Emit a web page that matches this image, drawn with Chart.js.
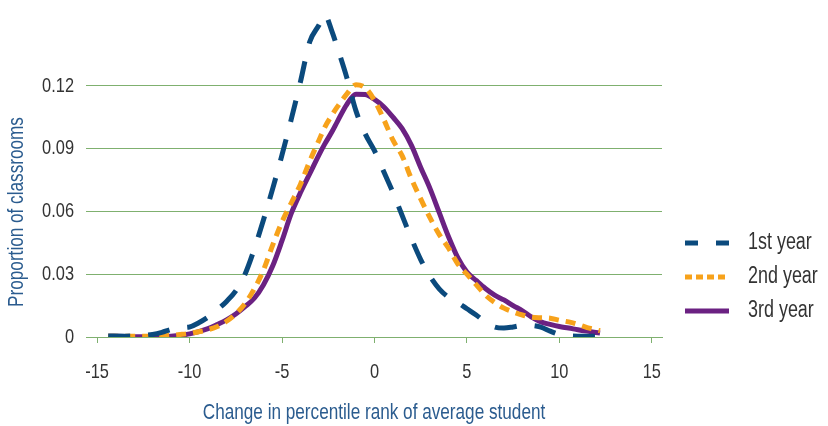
<!DOCTYPE html>
<html>
<head>
<meta charset="utf-8">
<script src="https://cdn.jsdelivr.net/npm/chart.js@4.4.0/dist/chart.umd.min.js"></script>
<style>
  html, body { margin: 0; padding: 0; background: #fff; }
  #wrap { width: 828px; height: 426px; }
</style>
</head>
<body>
<div id="wrap"><canvas id="chart" width="828" height="426"></canvas></div>
<script>
// change in percentile rank (x) shared by all three curves
const xValues = [-14.4, -13.5, -12.5, -12, -11.5, -11, -10.5, -10, -9.5, -9,
    -8.5, -8, -7.5, -7, -6.5, -6, -5.5, -5, -4.5, -4,
    -3.5, -3, -2.7, -2.3, -2, -1.5, -1, -0.5, 0, 0.5,
    1, 1.5, 2, 2.5, 3, 3.5, 4, 4.5, 5, 5.5,
    6, 6.5, 7, 7.5, 8, 8.5, 9, 9.5, 10, 10.5,
    11, 11.5, 12.2];

const firstYear = [0.0005, 0.0004, 0.0007, 0.0012, 0.0022, 0.0036, 0.0045, 0.0048, 0.0068, 0.0095,
    0.013, 0.017, 0.022, 0.030, 0.042, 0.056, 0.071, 0.087, 0.104, 0.122,
    0.141, 0.149, 0.154, 0.146, 0.138, 0.124, 0.108, 0.097, 0.089, 0.079,
    0.069, 0.058, 0.047, 0.037, 0.029, 0.023, 0.019, 0.0165, 0.0135, 0.0105,
    0.0072, 0.0048, 0.0043, 0.0048, 0.0055, 0.0055, 0.0047, 0.0028, 0.0012, 0.0006,
    0.0004, 0.0004, 0.0004];

const secondYear = [0.0003, 0.0003, 0.0003, 0.0004, 0.0005, 0.0008, 0.0012, 0.0017, 0.0025, 0.0035,
    0.005, 0.0075, 0.011, 0.016, 0.023, 0.032, 0.044, 0.055, 0.064, 0.073,
    0.084, 0.094, 0.100, 0.106, 0.110, 0.116, 0.1205, 0.119, 0.113, 0.104,
    0.094, 0.0865, 0.0755, 0.066, 0.057, 0.049, 0.0425, 0.035, 0.030, 0.025,
    0.020, 0.0165, 0.0138, 0.012, 0.0105, 0.0095, 0.0092, 0.009, 0.008, 0.0072,
    0.006, 0.0045, 0.003];

const thirdYear = [0.0004, 0.0002, 0.0001, 0.0001, 0.0002, 0.0004, 0.0008, 0.0015, 0.0026, 0.004,
    0.006, 0.0082, 0.011, 0.0145, 0.0185, 0.025, 0.034, 0.046, 0.059, 0.069,
    0.078, 0.087, 0.092, 0.098, 0.103, 0.111, 0.116, 0.1158, 0.1135, 0.110,
    0.105, 0.0995, 0.0915, 0.081, 0.071, 0.0595, 0.048, 0.038, 0.031, 0.027,
    0.0232, 0.020, 0.0177, 0.015, 0.0125, 0.0095, 0.0072, 0.006, 0.005, 0.0043,
    0.0035, 0.0028, 0.0019];

const xTicks = [-15, -10, -5, 0, 5, 10, 15];
const yTicks = [0, 0.03, 0.06, 0.09, 0.12];

const seriesNames = ["1st year", "2nd year", "3rd year"];
const seriesColors = ["#0b4a7d", "#f7a21b", "#6b2182"];
const lineDashes = [[22, 18], [10, 7], []];
const legendDashes = [[13, 18], [7, 4], []];

const FONT = "'Liberation Sans', Arial, sans-serif";
const GRID = "#7fb06f";
const TEXT = "#333333";
const TITLE_BLUE = "#2b5c8f";

// the original uses a condensed face; squeeze every text run around its anchor
const SQUEEZE = 0.78;
const rawFillText = CanvasRenderingContext2D.prototype.fillText;
CanvasRenderingContext2D.prototype.fillText = function (text, x, y, maxWidth) {
    this.save();
    this.translate(x, y);
    this.scale(SQUEEZE, 1);
    if (maxWidth !== undefined) rawFillText.call(this, text, 0, 0, maxWidth / SQUEEZE);
    else rawFillText.call(this, text, 0, 0);
    this.restore();
};

Chart.defaults.font.family = FONT;

function toPoints(ys) {
    return xValues.map((x, i) => ({ x: x, y: ys[i] }));
}

// legend and y title are drawn by hand so they sit where the original puts them
const sideBits = {
    id: 'sideBits',
    afterDraw(chart) {
        const ctx = chart.ctx;
        const left = chart.chartArea.right + 23;
        ctx.save();
        ctx.font = `23px ${FONT}`;
        ctx.textBaseline = 'middle';
        seriesNames.forEach((name, i) => {
            const y = 243 + i * 34;
            ctx.beginPath();
            ctx.setLineDash(legendDashes[i]);
            ctx.lineWidth = 5;
            ctx.lineCap = 'butt';
            ctx.strokeStyle = seriesColors[i];
            ctx.moveTo(left, y);
            ctx.lineTo(left + 44, y);
            ctx.stroke();
            ctx.setLineDash([]);
            ctx.fillStyle = TEXT;
            ctx.fillText(name, left + 63, y);
        });

        ctx.font = `22px ${FONT}`;
        ctx.translate(17, 212);
        ctx.rotate(-Math.PI / 2);
        ctx.textAlign = 'center';
        ctx.fillStyle = TITLE_BLUE;
        ctx.fillText('Proportion of classrooms', 0, 0);
        ctx.restore();
    }
};

const allSeries = [firstYear, secondYear, thirdYear];

new Chart(document.getElementById('chart'), {
    type: 'line',
    data: {
        datasets: seriesNames.map((name, i) => ({
            label: name,
            data: toPoints(allSeries[i]),
            borderColor: seriesColors[i],
            borderWidth: 5,
            borderDash: lineDashes[i],
            borderCapStyle: 'butt',
            pointRadius: 0,
            fill: false,
            cubicInterpolationMode: 'monotone'
        }))
    },
    options: {
        responsive: false,
        animation: false,
        layout: { padding: { left: 0, right: 166, top: 2, bottom: 0 } },
        plugins: {
            legend: { display: false },
            tooltip: { enabled: false }
        },
        scales: {
            x: {
                type: 'linear',
                min: -15.6,
                max: 15.55,
                afterBuildTicks: s => { s.ticks = xTicks.map(v => ({ value: v })); },
                afterFit: s => { s.height = 89; s.paddingLeft = 0; s.paddingRight = 0; },
                grid: { drawOnChartArea: false, drawTicks: true, tickLength: 6, color: GRID },
                border: { color: GRID },
                ticks: { padding: 17, color: TEXT, font: { size: 21 }, callback: v => String(v) },
                title: {
                    display: true,
                    text: 'Change in percentile rank of average student',
                    color: TITLE_BLUE,
                    font: { size: 22 },
                    padding: 0
                }
            },
            y: {
                min: 0,
                max: 0.16,
                afterBuildTicks: s => { s.ticks = yTicks.map(v => ({ value: v })); },
                afterFit: s => { s.width = 86; s.paddingTop = 0; s.paddingBottom = 0; },
                grid: { color: GRID, drawTicks: false },
                border: { display: false },
                ticks: { padding: 12, color: TEXT, font: { size: 21 }, callback: v => String(v) }
            }
        }
    },
    plugins: [sideBits]
});
</script>
</body>
</html>
